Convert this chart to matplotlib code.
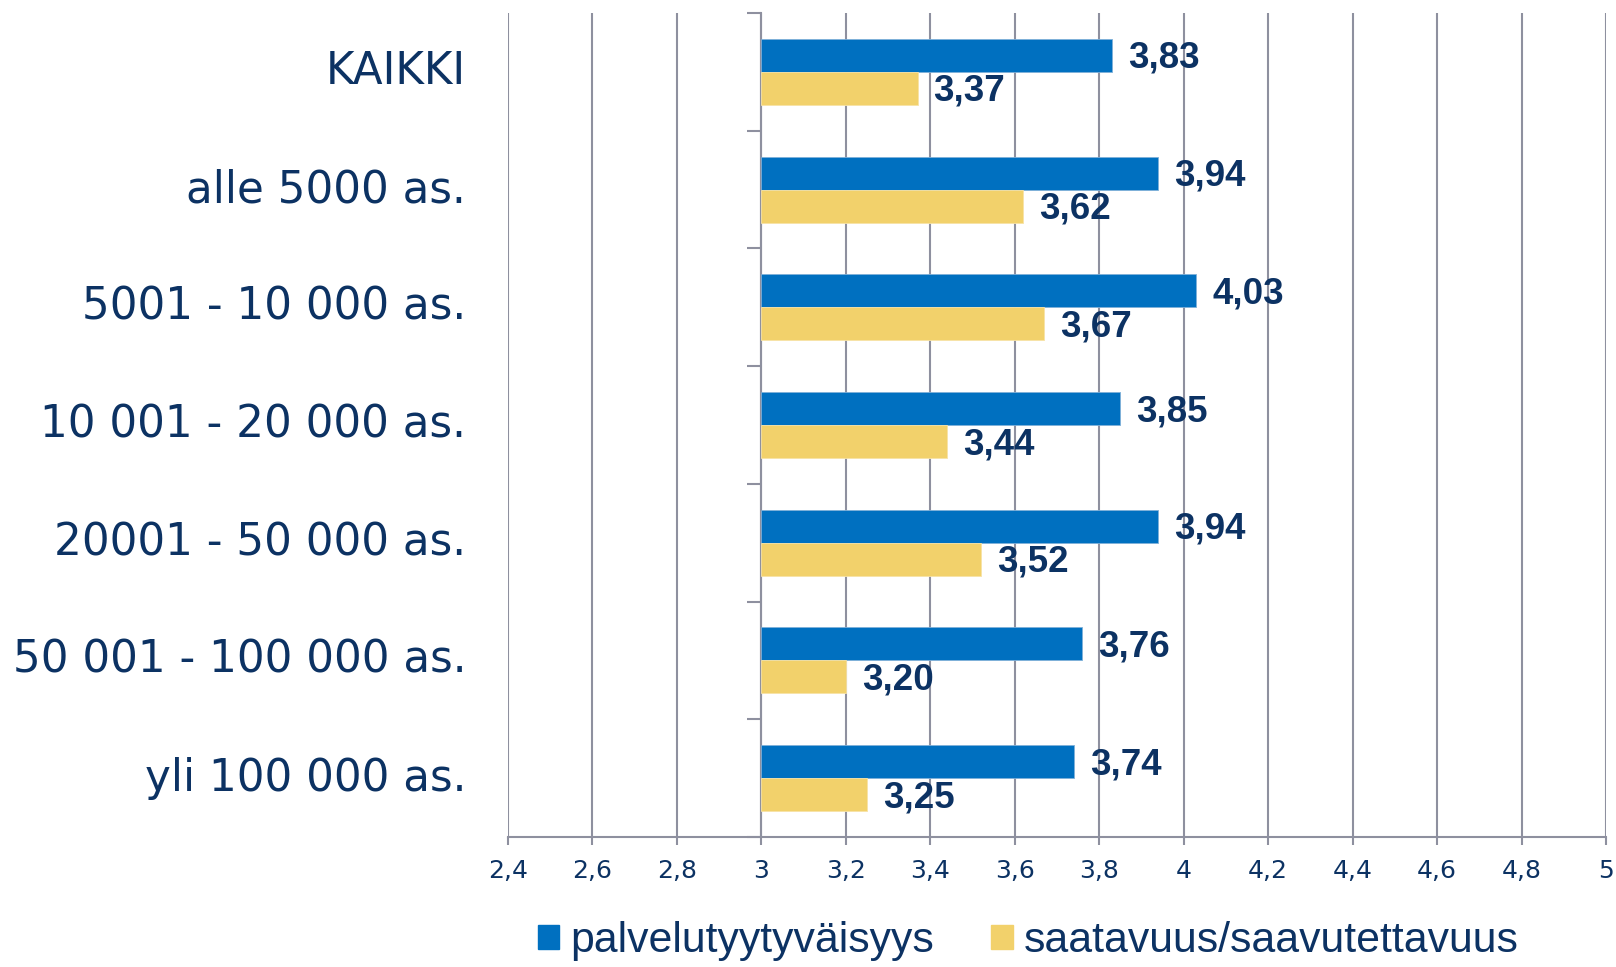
import matplotlib
matplotlib.use("Agg")
import matplotlib.pyplot as plt
from matplotlib.patches import Patch
from matplotlib.transforms import blended_transform_factory
import numpy as np

categories = ["KAIKKI", "alle 5000 as.", "5001 - 10 000 as.", "10 001 - 20 000 as.",
              "20001 - 50 000 as.", "50 001 - 100 000 as.", "yli 100 000 as."]
palvelu = [3.83, 3.94, 4.03, 3.85, 3.94, 3.76, 3.74]
saatavuus = [3.37, 3.62, 3.67, 3.44, 3.52, 3.20, 3.25]
series_names = ["palvelutyytyväisyys", "saatavuus/saavutettavuus"]
xticks = [2.4, 2.6, 2.8, 3.0, 3.2, 3.4, 3.6, 3.8, 4.0, 4.2, 4.4, 4.6, 4.8, 5.0]
xticklabels = ["2,4", "2,6", "2,8", "3", "3,2", "3,4", "3,6", "3,8", "4", "4,2", "4,4", "4,6", "4,8", "5"]

BLUE = "#0070C0"
YELLOW = "#F2D16B"
NAVY = "#0C3263"
GRID = "#8E909F"

fig = plt.figure(figsize=(16.16, 9.67), dpi=100)
ax = fig.add_axes([508/1616, 1-837/967, (1606-508)/1616, (837-13)/967])

y = np.arange(len(categories))
h = 0.28
base = 3.0
ax.barh(y - h/2, np.array(palvelu) - base, left=base, height=h, color=BLUE,
        edgecolor="#7FB0D8", linewidth=0.6, zorder=3)
ax.barh(y + h/2, np.array(saatavuus) - base, left=base, height=h, color=YELLOW,
        edgecolor="#F7E3A6", linewidth=0.6, zorder=3)

def fmt(v):
    return f"{v:.2f}".replace(".", ",")

for i, v in enumerate(palvelu):
    ax.annotate(fmt(v), (v, i - h/2), xytext=(11.5, -2.2), textcoords="offset points",
                ha="left", va="center", fontsize=26.5, fontweight="bold",
                family="Liberation Sans", color=NAVY, zorder=4)
for i, v in enumerate(saatavuus):
    ax.annotate(fmt(v), (v, i + h/2), xytext=(11.5, -2.2), textcoords="offset points",
                ha="left", va="center", fontsize=26.5, fontweight="bold",
                family="Liberation Sans", color=NAVY, zorder=4)

ax.set_xlim(2.4, 5.0)
ax.set_ylim(len(categories) - 0.5, -0.5)

ax.set_xticks(xticks)
ax.set_xticklabels(xticklabels, fontsize=18, color=NAVY, family="DejaVu Sans")
ax.tick_params(axis="x", length=6, width=1.5, color=GRID, pad=10)

ax.set_yticks(np.arange(-0.5, len(categories), 1.0))
ax.set_yticklabels([])
ax.tick_params(axis="y", length=10, width=1.5, color=GRID)

trans = blended_transform_factory(ax.transAxes, ax.transData)
for i, c in enumerate(categories):
    ax.text(-0.038, i, c, transform=trans, ha="right", va="center",
            fontsize=31.4, color=NAVY, family="DejaVu Sans")

for s in ["top", "right"]:
    ax.spines[s].set_visible(False)
ax.spines["left"].set_position(("data", 3.0))
ax.spines["left"].set_color(GRID)
ax.spines["left"].set_linewidth(1.5)
ax.spines["bottom"].set_color(GRID)
ax.spines["bottom"].set_linewidth(1.5)

ax.grid(axis="x", color=GRID, linewidth=1.5, zorder=0)
ax.set_axisbelow(True)

handles = [Patch(facecolor=BLUE, edgecolor=BLUE), Patch(facecolor=YELLOW, edgecolor=YELLOW)]
leg = fig.legend(handles, series_names, loc="center", bbox_to_anchor=(1028/1616, 1-941/967),
                 ncol=2, frameon=False, handlelength=0.5, handleheight=0.5,
                 handletextpad=0.25, columnspacing=1.35, borderaxespad=0,
                 prop={"family": "Liberation Sans", "size": 30.8})
for t in leg.get_texts():
    t.set_color(NAVY)

fig.savefig("out.png", dpi=100)
